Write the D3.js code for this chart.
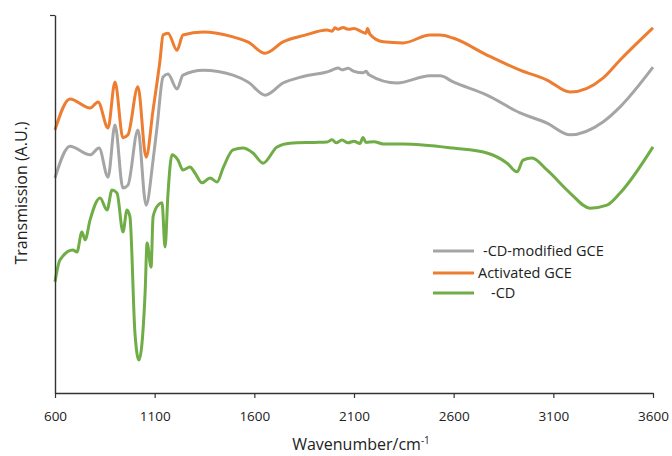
<!DOCTYPE html>
<html>
<head>
<meta charset="utf-8">
<script src="https://cdn.jsdelivr.net/npm/d3@7"></script>
<style>
  html, body { margin: 0; padding: 0; background: #fff; }
  svg text { font-family: "Open Sans", "Noto Sans", sans-serif; fill: #222; }
</style>
</head>
<body>
<svg id="chart" width="672" height="456"></svg>
<script>
// x tick labels
const xTicks = [600, 1100, 1600, 2100, 2600, 3100, 3600];

// series names (legend order)
const seriesNames = ['-CD-modified GCE', 'Activated GCE', '-CD'];

// Activated GCE
const activatedWn = [600, 675, 776, 816, 866, 901, 941, 966, 1016, 1057, 1092, 1127, 1142, 1167, 1212, 1242,
  1343, 1493, 1570, 1654, 1744, 1850, 1965, 1990, 2005, 2020, 2045, 2070, 2100, 2130, 2145, 2160, 2168, 2180,
  2246, 2346, 2481, 2532, 2597, 2767, 2933, 3068, 3184, 3349, 3435, 3600];
const activatedT = [69.6, 77.8, 75.4, 77.0, 70.1, 82.3, 67.5, 68.3, 81.0, 62.4, 74.9, 88.1, 94.7, 95.2, 90.7, 94.7,
  95.5, 94.2, 92.8, 89.9, 92.9, 94.6, 96.0, 95.7, 96.6, 96.2, 96.7, 96.2, 96.4, 95.8, 95.4, 95.2, 96.4, 94.9,
  92.9, 92.6, 94.7, 94.7, 93.9, 89.4, 85.4, 82.8, 79.6, 83.3, 88.1, 96.6];

// beta-CD-modified GCE
const modifiedWn = [600, 675, 776, 821, 866, 901, 941, 966, 1016, 1057, 1092, 1112, 1142, 1167, 1212, 1242,
  1343, 1493, 1570, 1654, 1744, 1850, 1980, 2000, 2020, 2040, 2070, 2100, 2145, 2160, 2175, 2316, 2481, 2532,
  2597, 2767, 2933, 3068, 3184, 3349, 3435, 3600];
const modifiedT = [56.9, 65.3, 63.0, 64.8, 57.1, 70.9, 54.2, 55.0, 69.6, 49.7, 61.6, 70.4, 83.6, 84.4, 80.4, 84.1,
  85.4, 84.1, 82.2, 78.8, 82.0, 83.8, 85.2, 85.7, 86.0, 85.5, 85.9, 85.1, 84.7, 85.1, 84.2, 82.0, 83.9, 83.9,
  82.3, 78.8, 74.1, 71.4, 68.3, 71.7, 75.7, 86.2];

// beta-CD
const cdWn = [600, 625, 690, 710, 735, 751, 776, 826, 861, 886, 911, 941, 961, 976, 1001, 1021, 1052, 1062,
  1082, 1092, 1117, 1137, 1152, 1167, 1187, 1217, 1242, 1277, 1302, 1338, 1378, 1413, 1443, 1493, 1543, 1593,
  1644, 1714, 1779, 1900, 1965, 1990, 2010, 2040, 2070, 2100, 2130, 2145, 2160, 2200, 2246, 2346, 2597, 2767,
  2868, 2918, 2948, 2993, 3068, 3184, 3284, 3369, 3435, 3600];
const cdT = [29.4, 35.2, 37.8, 37.3, 42.6, 40.5, 45.8, 51.6, 48.4, 53.7, 52.9, 42.6, 48.4, 46.6, 15.9, 8.7, 26.5, 39.7,
  33.3, 46.6, 49.7, 50.3, 38.6, 52.9, 63.0, 61.6, 59.0, 59.8, 58.2, 55.6, 56.9, 55.8, 59.5, 64.3, 64.8, 63.5,
  60.8, 65.1, 66.1, 66.3, 66.4, 67.0, 66.2, 66.9, 66.2, 66.6, 66.0, 67.6, 66.3, 66.5, 65.9, 65.9, 64.8, 63.5,
  60.8, 58.5, 61.6, 62.2, 59.0, 52.9, 48.9, 49.7, 52.9, 65.1];

const colors = ['#a5a5a5', '#ed7d31', '#70ad47'];

const svg = d3.select('#chart');
const x = d3.scaleLinear().domain([600, 3600]).range([55, 653]);
const y = d3.scaleLinear().domain([0, 100]).range([393, 15]);

const series = [
  {name: seriesNames[1], color: colors[1], pts: activatedWn.map((w, i) => [w, activatedT[i]])},
  {name: seriesNames[0], color: colors[0], pts: modifiedWn.map((w, i) => [w, modifiedT[i]])},
  {name: seriesNames[2], color: colors[2], pts: cdWn.map((w, i) => [w, cdT[i]])}
];

const line = d3.line()
  .curve(d3.curveMonotoneX)
  .x(d => x(d[0]))
  .y(d => y(d[1]));

svg.selectAll('.series')
  .data(series)
  .enter().append('path')
  .attr('class', 'series')
  .attr('d', d => line(d.pts))
  .attr('fill', 'none')
  .attr('stroke', d => d.color)
  .attr('stroke-width', 3)
  .attr('stroke-linejoin', 'round');

// x axis
const xAxis = svg.append('g')
  .attr('transform', 'translate(0,' + y(0) + ')')
  .call(d3.axisBottom(x).tickValues(xTicks).tickSize(5).tickSizeOuter(0).tickFormat(d3.format('d')));
xAxis.select('.domain').attr('stroke', '#333').attr('stroke-width', 1.4);
xAxis.selectAll('.tick line').attr('stroke', '#333').attr('stroke-width', 1.2);
xAxis.selectAll('.tick text')
  .attr('dy', '1.45em')
  .style('font-size', '13.5px')
  .style('font-family', '"Open Sans", sans-serif')
  .attr('fill', '#222');

// y axis, no labels
const yAxis = svg.append('g')
  .attr('transform', 'translate(' + x(600) + ',0)')
  .call(d3.axisLeft(y).tickValues([100]).tickSize(5).tickSizeOuter(0).tickFormat(''));
yAxis.select('.domain').attr('stroke', '#333').attr('stroke-width', 1.4);
yAxis.selectAll('.tick line').attr('stroke', '#333').attr('stroke-width', 1.2);

// axis titles
const xt = svg.append('text')
  .attr('x', 361)
  .attr('y', 450)
  .attr('text-anchor', 'middle')
  .style('font-size', '16px');
xt.append('tspan').text('Wavenumber/cm');
xt.append('tspan').attr('dy', -6).style('font-size', '10px').text('-1');

svg.append('text')
  .attr('transform', 'translate(27,193) rotate(-90)')
  .attr('text-anchor', 'middle')
  .style('font-size', '16px')
  .text('Transmission (A.U.)');

// legend
const legendItems = [
  {name: seriesNames[0], color: colors[0], y: 251, tx: 483},
  {name: seriesNames[1], color: colors[1], y: 273, tx: 478},
  {name: seriesNames[2], color: colors[2], y: 293, tx: 491}
];
const lg = svg.append('g');
lg.selectAll('line')
  .data(legendItems)
  .enter().append('line')
  .attr('x1', 433).attr('x2', 474)
  .attr('y1', d => d.y).attr('y2', d => d.y)
  .attr('stroke', d => d.color)
  .attr('stroke-width', 3);
lg.selectAll('text')
  .data(legendItems)
  .enter().append('text')
  .attr('x', d => d.tx)
  .attr('y', d => d.y + 5)
  .style('font-size', '14.5px')
  .text(d => d.name);
</script>
</body>
</html>
